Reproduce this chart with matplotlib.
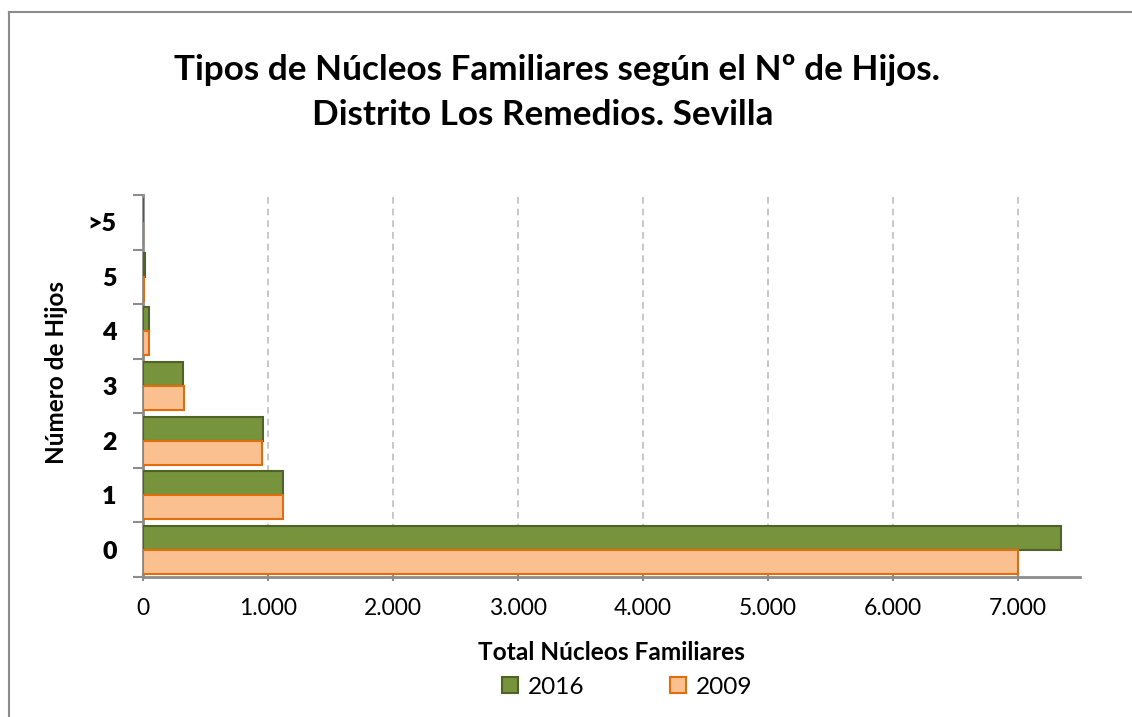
import matplotlib
matplotlib.use("Agg")
import matplotlib.pyplot as plt
from matplotlib.ticker import FuncFormatter, FixedLocator
from matplotlib.patches import Patch
from matplotlib.lines import Line2D
import numpy as np

plt.rcParams['font.family'] = ['Lato', 'DejaVu Sans']

categories = ['0', '1', '2', '3', '4', '5', '>5']
values_2016 = [7350, 1120, 962, 323, 52, 15, 4]
values_2009 = [7000, 1120, 949, 331, 52, 10, 2]
series_labels = ['2016', '2009']
x_ticks = [0, 1000, 2000, 3000, 4000, 5000, 6000, 7000]

green_fill, green_edge = '#77933C', '#4F6228'
orange_fill, orange_edge = '#FAC090', '#E46C0A'
axis_gray = '#8C8C8C'

W, H = 1132, 717
fig = plt.figure(figsize=(W/100, H/100), dpi=100)
ax = fig.add_axes([143/W, 1-577/H, (1080-143)/W, (577-195)/H])

y = np.arange(len(categories))
h = 0.44
ax.barh(y + h/2, values_2016, height=h, color=green_fill, edgecolor=green_edge, linewidth=1.5, zorder=3)
ax.barh(y - h/2, values_2009, height=h, color=orange_fill, edgecolor=orange_edge, linewidth=1.5, zorder=3)

ax.set_xlim(0, 7500)
ax.set_ylim(-0.5, len(categories) - 0.5)

ax.xaxis.set_major_locator(FixedLocator(x_ticks))
ax.xaxis.set_major_formatter(FuncFormatter(lambda v, p: f"{int(v):,}".replace(",", ".")))
ax.set_yticks(y)
ax.set_yticklabels(categories, fontweight='heavy')
ax.set_yticks(np.arange(-0.5, len(categories)), minor=True)

ax.tick_params(axis='y', which='major', length=0, pad=19, labelsize=18)
ax.tick_params(axis='y', which='minor', length=7, width=1.5, color=axis_gray, direction='out')
ax.tick_params(axis='x', which='major', length=6, width=1.5, color=axis_gray, direction='inout', pad=12, labelsize=16.5)

for v in x_ticks[1:]:
    ax.axvline(v, color='#BFBFBF', linestyle=(0, (4, 3)), linewidth=1.2, zorder=1)

for s in ['top', 'right']:
    ax.spines[s].set_visible(False)
for s in ['left', 'bottom']:
    ax.spines[s].set_color(axis_gray)
    ax.spines[s].set_linewidth(2)

fig.text(557/W, 1-80/H, 'Tipos de Núcleos Familiares según el Nº de Hijos.', ha='center', va='baseline',
         fontsize=25.3, fontweight='bold')
fig.text(543/W, 1-125/H, 'Distrito Los Remedios. Sevilla', ha='center', va='baseline',
         fontsize=25.3, fontweight='bold')
fig.text(611/W, 1-660/H, 'Total Núcleos Familiares', ha='center', va='baseline', fontsize=17.6, fontweight='bold')
fig.text(57/W, 1-372/H, 'Número de Hijos', ha='center', va='center', rotation=90, fontsize=17.5, fontweight='bold')

handles = [Patch(facecolor=green_fill, edgecolor=green_edge, linewidth=1.5),
           Patch(facecolor=orange_fill, edgecolor=orange_edge, linewidth=1.5)]
fig.legend(handles, series_labels, loc='center', bbox_to_anchor=(627/W, 1-687/H), ncol=2, frameon=False,
           fontsize=17.6, handlelength=0.65, handleheight=0.65, handletextpad=0.4, columnspacing=3.5)

# chart border (left and top visible)
fig.add_artist(Line2D([8.5/W, 8.5/W], [0, 1-11.5/H], transform=fig.transFigure, color='#8C8C8C', linewidth=1.5))
fig.add_artist(Line2D([8.5/W, 1], [1-11.5/H, 1-11.5/H], transform=fig.transFigure, color='#8C8C8C', linewidth=1.5))

fig.savefig('out.png', dpi=100)
